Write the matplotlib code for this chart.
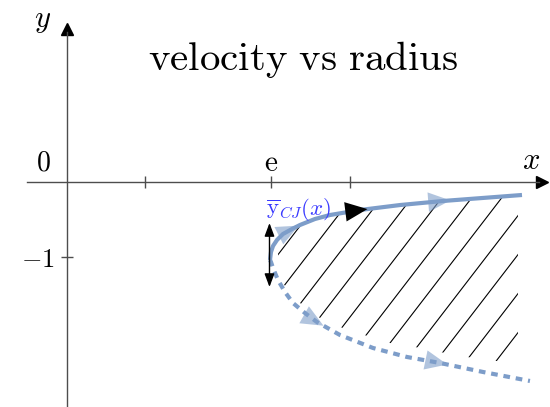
import numpy as np
import matplotlib
matplotlib.use("Agg")
import matplotlib.pyplot as plt
from matplotlib.patches import Polygon

plt.rcParams['mathtext.fontset'] = 'cm'
plt.rcParams['font.family'] = 'serif'

# upper branch (solid) and lower branch (dotted) of the curve
upper_x = [2.707, 2.72, 2.747, 2.8, 2.88, 3.0, 3.107, 3.307, 3.507, 3.907, 4.44, 5.013, 6.067]
upper_y = [-1.04, -0.933, -0.853, -0.773, -0.693, -0.627, -0.573, -0.493, -0.44, -0.373, -0.307, -0.253, -0.173]
lower_x = [2.707, 2.72, 2.747, 2.813, 2.907, 3.013, 3.173, 3.333, 3.64, 4.08, 4.533, 4.973, 5.547, 6.173]
lower_y = [-1.04, -1.067, -1.147, -1.307, -1.467, -1.613, -1.747, -1.867, -2.04, -2.213, -2.333, -2.413, -2.533, -2.653]

# lower edge of the hatched region
hatch_x = [2.84, 3.107, 3.373, 3.707, 4.307, 4.64, 4.973, 5.333, 5.733, 6.013]
hatch_y = [-1.307, -1.613, -1.813, -1.96, -2.147, -2.2, -2.267, -2.333, -2.387, -2.413]
hatch_right = 6.013

xticks = [1.04, np.e, 3.77]
yticks = [-1]

curve_col = '#7d9dc9'

fig = plt.figure(figsize=(5.5, 4.07), dpi=100)
ax = fig.add_axes([0, 0, 1, 1])
ax.set_xlim(-0.893, 6.44)
ax.set_ylim(-3.0, 2.427)
ax.set_aspect('equal')

# axes through the origin
for s in ['top', 'right']:
    ax.spines[s].set_visible(False)
ax.spines['left'].set_position(('data', 0))
ax.spines['bottom'].set_position(('data', 0))
ax.spines['bottom'].set_bounds(-0.533, 6.3)
ax.spines['left'].set_bounds(-3.0, 2.0)
for s in ['left', 'bottom']:
    ax.spines[s].set_color('0.3')
    ax.spines[s].set_linewidth(1.0)
ax.plot(6.33, 0, marker='>', color='k', ms=8, clip_on=False)
ax.plot(0, 2.04, marker='^', color='k', ms=8, clip_on=False)

ax.set_xticks(xticks)
ax.set_xticklabels([])
ax.set_yticks(yticks)
ax.set_yticklabels([r'$-1$'], fontsize=19)
ax.tick_params(direction='inout', length=8, width=1, color='0.3', pad=5)

# hatched region between the branches
up = [(x, y) for x, y in zip(upper_x, upper_y) if x >= 2.8]
poly = up + [(hatch_right, upper_y[-1] + 0.01), (hatch_right, hatch_y[-1])] + list(zip(hatch_x, hatch_y))[::-1]
clip = Polygon(poly, closed=True, fc='none', ec='none')
ax.add_patch(clip)
slope, step = 1.3, 0.4
for k in range(-12, 8):
    x0 = 4.307 + k * step
    xs = np.array([x0 - 3, x0 + 3])
    ln, = ax.plot(xs, -2.147 + slope * (xs - x0), color='k', lw=0.8)
    ln.set_clip_path(clip)

ax.plot(upper_x, upper_y, color=curve_col, lw=3, solid_capstyle='butt')
ax.plot(lower_x, lower_y, color=curve_col, lw=3, ls=(0, (1.6, 1.4)))


def head(i, xs, ys, color, alpha, size):
    p0 = np.array([xs[i], ys[i]])
    p1 = np.array([xs[i + 1], ys[i + 1]])
    d = (p1 - p0) / np.linalg.norm(p1 - p0)
    ax.annotate('', xy=p0 + 0.1 * d, xytext=p0 - 0.05 * d,
                arrowprops=dict(arrowstyle='-|>,head_length=0.8,head_width=0.35',
                                fc=color, ec='none', lw=0, alpha=alpha,
                                mutation_scale=size, shrinkA=0, shrinkB=0))


head(5, upper_x, upper_y, curve_col, 0.6, 20)
head(11, upper_x, upper_y, curve_col, 0.6, 20)
head(9, upper_x, upper_y, 'k', 1, 20)
head(7, lower_x, lower_y, curve_col, 0.6, 20)
head(11, lower_x, lower_y, curve_col, 0.6, 20)

ax.annotate('', xy=(2.7, -0.547), xytext=(2.7, -1.4),
            arrowprops=dict(arrowstyle='<|-|>,head_length=0.8,head_width=0.3',
                            color='k', lw=1, mutation_scale=10, shrinkA=0, shrinkB=0))

ax.text(2.65, -0.44, r'$\overline{\mathrm{y}}_{CJ}(x)$', color='#3a3aff', fontsize=16.5)
ax.text(3.147, 1.64, r'$\mathrm{velocity\ vs\ radius}$', fontsize=29.5, ha='center', va='center')
ax.text(-0.31, 0.25, r'$0$', fontsize=20, ha='center', va='center')
ax.text(np.e, 0.26, r'$\mathrm{e}$', fontsize=21, ha='center', va='center')
ax.text(6.19, 0.29, r'$x$', fontsize=22, ha='center', va='center')
ax.text(-0.32, 2.17, r'$y$', fontsize=22, ha='center', va='center')

fig.savefig('out.png', dpi=100)
